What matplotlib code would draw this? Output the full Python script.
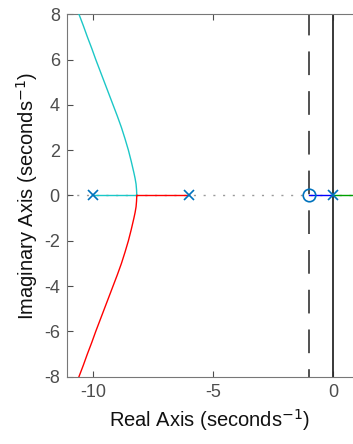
import matplotlib
matplotlib.use("Agg")
import matplotlib.pyplot as plt

# Root-locus data
poles_re = [-10, -6, 0]
poles_im = [0, 0, 0]
zeros_re = [-1]
zeros_im = [0]

# complex branch leaving the real axis (upper: cyan, lower: red)
upper_re = [-8.19, -8.20, -8.22, -8.26, -8.31, -8.42, -8.54, -8.68, -8.83, -9.00,
            -9.18, -9.36, -9.54, -9.72, -9.90, -10.07, -10.25, -10.42, -10.60]
upper_im = [0.0, 0.25, 0.5, 0.75, 1.0, 1.5, 2.0, 2.5, 3.0, 3.5,
            4.0, 4.5, 5.0, 5.5, 6.0, 6.5, 7.0, 7.5, 8.0]
lower_re = [-8.19, -8.20, -8.22, -8.26, -8.31, -8.42, -8.54, -8.68, -8.83, -9.00,
            -9.18, -9.36, -9.54, -9.72, -9.90, -10.07, -10.25, -10.42, -10.60]
lower_im = [0.0, -0.25, -0.5, -0.75, -1.0, -1.5, -2.0, -2.5, -3.0, -3.5,
            -4.0, -4.5, -5.0, -5.5, -6.0, -6.5, -7.0, -7.5, -8.0]

# real-axis segments
cyan_real = [-10, -8.19]
red_real = [-6, -8.19]
blue_real = [0, -1]
green_real = [0, 0.9]

asymptote_x = -1

xticks = [-10, -5, 0]
yticks = [-8, -6, -4, -2, 0, 2, 4, 6, 8]
xlim = (-11.11, 0.82)
ylim = (-8, 8)

plt.rcParams['font.family'] = ['Liberation Sans', 'DejaVu Sans']
fig = plt.figure(figsize=(3.53, 4.44), dpi=100)
ax = fig.add_axes([0.189, 0.1516, 0.811, 0.8164])

grey = '#9a9a9a'
# dotted axis line at y=0
ax.plot([xlim[0], xlim[1]], [0, 0], color=grey, lw=1.0, linestyle=(0, (1.5, 5.5)), zorder=1)
# vertical lines
ax.plot([asymptote_x, asymptote_x], [ylim[1], ylim[0]], color='#222222', lw=1.1,
        linestyle=(1.5, (15.5, 10.5)), zorder=2)
ax.plot([0, 0], [ylim[1], ylim[0]], color='#2a2a2a', lw=1.3, zorder=2)

cyan = '#1CC7C7'
ax.plot(upper_re, upper_im, color=cyan, lw=1.0, zorder=3)
ax.plot(cyan_real, [0, 0], color=cyan, lw=1.0, zorder=3)
ax.plot(lower_re, lower_im, color='#FF0000', lw=1.0, zorder=3)
ax.plot(red_real, [0, 0], color='#FF0000', lw=1.0, zorder=3)
ax.plot(blue_real, [0, 0], color='#0000FF', lw=1.0, zorder=3)
ax.plot(green_real, [0, 0], color='#00A000', lw=1.0, zorder=3)

mblue = '#0072BD'
ax.plot(poles_re, poles_im, linestyle='none', marker='x', ms=7, mew=1.2, color=mblue, zorder=4)
ax.plot(zeros_re, zeros_im, linestyle='none', marker='o', ms=9, mew=1.2,
        markerfacecolor='none', markeredgecolor=mblue, zorder=4)

ax.set_xlim(*xlim)
ax.set_ylim(*ylim)
ax.set_xticks(xticks)
ax.set_yticks(yticks)
ax.set_xticklabels([str(v) for v in xticks])
ax.set_yticklabels([str(v) for v in yticks])

tickc = '#4d4d4d'
ax.tick_params(direction='in', length=4, width=0.8, colors=tickc, labelsize=13,
               top=True, right=False, pad=5)
for side in ['left', 'bottom', 'top']:
    ax.spines[side].set_color('#777777')
    ax.spines[side].set_linewidth(0.8)
ax.spines['right'].set_visible(False)

ax.set_xlabel('Real Axis (seconds$^{-1}$)', fontsize=14.5, color='#111111', labelpad=5)
ax.set_ylabel('Imaginary Axis (seconds$^{-1}$)', fontsize=14.5, color='#111111', labelpad=3)

fig.savefig('out.png', dpi=100)
